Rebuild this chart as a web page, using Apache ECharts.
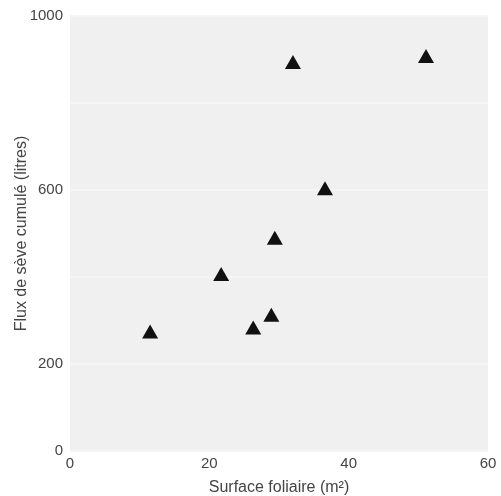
<!DOCTYPE html>
<html><head><meta charset="utf-8">
<script src="https://cdn.jsdelivr.net/npm/echarts@6/dist/echarts.min.js"></script>
<style>html,body{margin:0;padding:0;background:#fff}#c{width:501px;height:496px}</style>
</head><body><div id="c"></div>
<script>
const surfaceFoliaire = [11.5, 21.7, 26.3, 28.9, 29.4, 36.6, 32.0, 51.1];
const fluxSeve = [275, 407, 284, 313, 490, 604, 894, 908];
const xTicks = [0, 20, 40, 60];
const yTicks = [0, 200, 600, 1000];
const xTitle = 'Surface foliaire (m²)';
const yTitle = 'Flux de sève cumulé (litres)';

const chart = echarts.init(document.getElementById('c'), null, {renderer: 'canvas'});
const lbl = {color: '#444', fontFamily: 'Liberation Sans', fontSize: 15};
const ttl = {color: '#444', fontFamily: 'Liberation Sans', fontSize: 16};
chart.setOption({
  animation: false,
  grid: {left: 70, right: 13, top: 16, bottom: 45, show: true, backgroundColor: '#f0f0f0', borderWidth: 0,
         containLabel: false, outerBoundsMode: 'none'},
  xAxis: {
    type: 'value', min: 0, max: 60, interval: 20,
    axisLine: {show: false}, axisTick: {show: false}, splitLine: {show: false},
    axisLabel: Object.assign({margin: 5, formatter: v => xTicks.includes(v) ? String(v) : ''}, lbl),
    name: xTitle, nameLocation: 'middle', nameGap: 29, nameMoveOverlap: false,
    nameTextStyle: ttl
  },
  yAxis: {
    type: 'value', min: 0, max: 1000, interval: 200,
    axisLine: {show: false}, axisTick: {show: false},
    splitLine: {show: true, lineStyle: {color: '#f5f5f5', width: 2}},
    axisLabel: Object.assign({margin: 7, formatter: v => yTicks.includes(v) ? String(v) : ''}, lbl),
    name: yTitle, nameLocation: 'middle', nameGap: 40, nameMoveOverlap: false,
    nameTextStyle: ttl
  },
  series: [{
    type: 'scatter',
    symbol: 'triangle',
    symbolSize: [16, 14],
    itemStyle: {color: '#111', opacity: 1},
    data: surfaceFoliaire.map((x, i) => [x, fluxSeve[i]])
  }]
});
</script></body></html>
